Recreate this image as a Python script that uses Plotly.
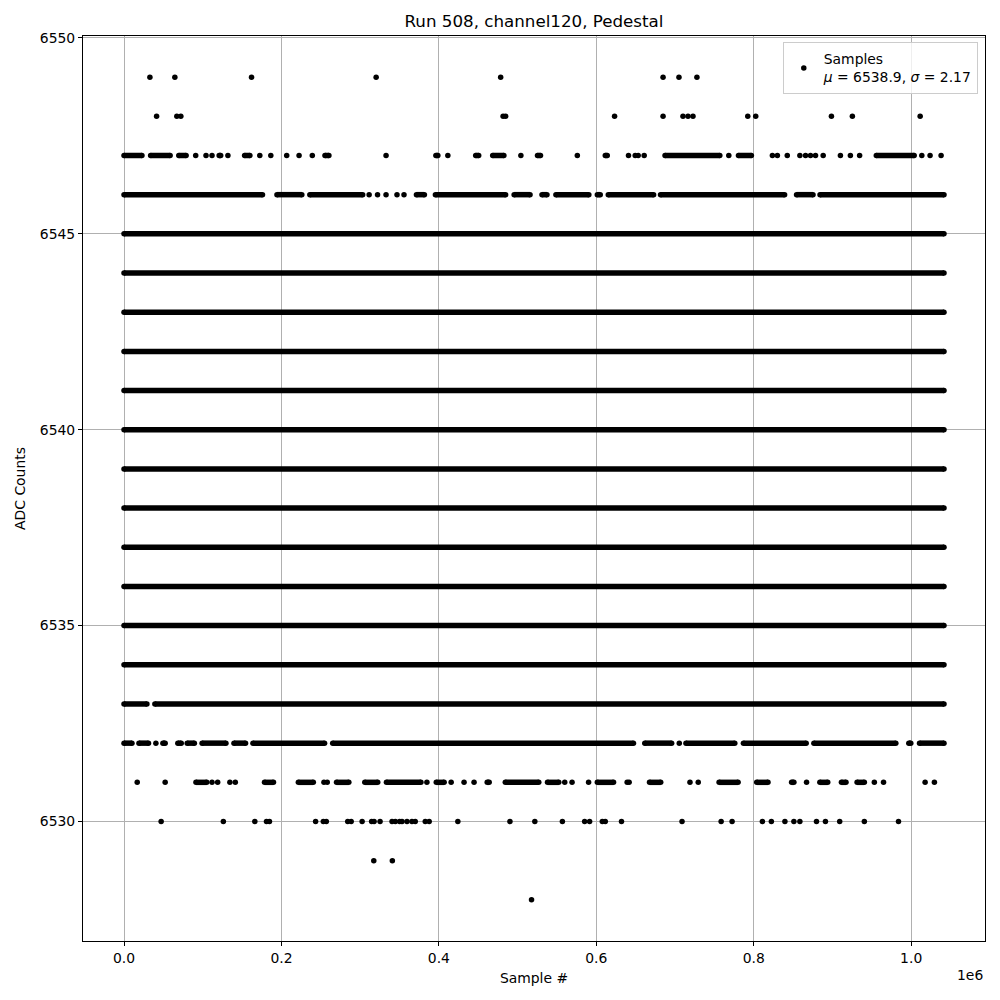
import plotly.graph_objects as go

# ---------------- data (sample index, ADC value) ----------------
x_end = 1041700  # last sample index

# levels that are filled over the whole run
dense_levels = [6534, 6535, 6536, 6537, 6538, 6539, 6540, 6541, 6542, 6543, 6544, 6545]

# partially filled levels: runs of consecutive samples (start, end)
runs_6533 = [(0, 29100), (39200, 1041700)]
runs_6546 = [(0, 175950), (194300, 225900), (236100, 303200), (371500, 381600),
             (395600, 484800), (495600, 515800), (531000, 537300), (548700, 590500),
             (601300, 605000), (615200, 672800), (681600, 839200), (854400, 875300),
             (884200, 1041700)]
runs_6547 = [(0, 22800), (33800, 58600), (69600, 78900), (120900, 122800),
             (153200, 159900), (255300, 260300), (396200, 398700), (446800, 450600),
             (468400, 482600), (525300, 529100), (611400, 613900), (687300, 756900),
             (780600, 797000), (955700, 1003800)]
runs_6532 = [(0, 10100), (19000, 31100), (49400, 52300), (68400, 72700), (80300, 89400),
             (99200, 129500), (139700, 154400), (163800, 254800), (265100, 647200),
             (661600, 695700), (713900, 775900), (786900, 866600), (876400, 980500),
             (997000, 999500), (1010600, 1041700)]
runs_6531 = [(91400, 105100), (178500, 189900), (221500, 240500), (270000, 285600),
             (305900, 322300), (333400, 377200), (396700, 406700), (461400, 463900),
             (484400, 526900), (538000, 552300), (601300, 621900), (667600, 681800),
             (756000, 780100), (803800, 818100), (848100, 851000), (884000, 894000),
             (911400, 917200), (931300, 940500)]

# isolated samples
dots_6549 = [32900, 64600, 162000, 320300, 478500, 684800, 705000, 727800]
dots_6548 = [41400, 67100, 72200, 481600, 484800, 623200, 684800, 710100, 716500,
             722800, 792400, 802500, 898700, 925300, 1011400]
dots_6547 = [91100, 104200, 111800, 132000, 172500, 186500, 206700, 222400, 239200,
             332900, 411400, 504200, 575900, 640900, 649400, 653200, 660800, 768300,
             823700, 830000, 842600, 858600, 865800, 872100, 878500, 888200, 910100,
             922800, 934500, 1013500, 1024000, 1038000]
dots_6546 = [311400, 322100, 332900, 346800, 355700]
dots_6532 = [40500, 705400]
dots_6531 = [16800, 52300, 111800, 119000, 134500, 141400, 254000, 258200, 384800,
             415600, 432000, 444700, 559900, 569200, 590200, 639200, 641700, 719000,
             729500, 867100, 953200, 964900, 1017700, 1029500]
dots_6530 = [47200, 126200, 166200, 181000, 184800, 243400, 253200, 257000, 284200,
             288600, 302500, 314600, 317700, 325300, 340500, 344700, 350200, 353200,
             359500, 365800, 370000, 382700, 387700, 424100, 490300, 521900, 556900,
             585200, 591500, 607600, 611400, 632000, 708900, 758600, 772500, 811000,
             822400, 839600, 851000, 858600, 879700, 891100, 909200, 940500, 983900]
dots_6529 = [317300, 340900]
dots_6528 = [517700]

mu = 6538.9
sigma = 2.17

x_ticks = [0, 200000, 400000, 600000, 800000, 1000000]
x_tick_text = ["0.0", "0.2", "0.4", "0.6", "0.8", "1.0"]
y_ticks = [6530, 6535, 6540, 6545, 6550]

# ---------------- build marks ----------------
run_sets = {6533: runs_6533, 6546: runs_6546, 6547: runs_6547,
            6532: runs_6532, 6531: runs_6531}
for lv in dense_levels:
    run_sets[lv] = [(0, x_end)]

rx, ry = [], []
for lv, runs in run_sets.items():
    for a, b in runs:
        rx += [a, b, None]
        ry += [lv, lv, None]

dot_sets = {6549: dots_6549, 6548: dots_6548, 6547: dots_6547, 6546: dots_6546,
            6532: dots_6532, 6531: dots_6531, 6530: dots_6530, 6529: dots_6529,
            6528: dots_6528}
dx, dy = [], []
for lv, xs in dot_sets.items():
    dx += xs
    dy += [lv] * len(xs)

FONT = "DejaVu Sans"
FS = 13.9
fig = go.Figure()
fig.add_trace(go.Scatter(x=rx, y=ry, mode="lines+markers",
                         line=dict(color="black", width=5.5),
                         marker=dict(color="black", size=5.5),
                         showlegend=False, hoverinfo="skip"))
fig.add_trace(go.Scatter(x=dx, y=dy, mode="markers",
                         marker=dict(color="black", size=5.5),
                         name=f"Samples<br><i>μ</i> = {mu}, <i>σ</i> = {sigma}"))

x_margin = 0.05 * x_end
y_lo, y_hi = 6528, 6549
y_margin = 0.05 * (y_hi - y_lo)

axis_common = dict(showline=True, linecolor="black", linewidth=1, mirror=True,
                   ticks="outside", ticklen=4, tickcolor="black",
                   showgrid=True, gridcolor="#b0b0b0", gridwidth=0.8,
                   zeroline=False, tickfont=dict(family=FONT, size=FS, color="black"))

fig.update_layout(
    width=992, height=992,
    margin=dict(l=73, r=15, t=28, b=59),
    plot_bgcolor="white", paper_bgcolor="white",
    font=dict(family=FONT, color="black"),
    title=dict(text="Run 508, channel120, Pedestal", x=0.5, xref="paper",
               y=0.987, yref="container", yanchor="middle",
               font=dict(family=FONT, size=16.7, color="black")),
    xaxis=dict(range=[-x_margin, x_end + x_margin], tickvals=x_ticks, ticktext=x_tick_text,
               title=dict(text="Sample #", font=dict(family=FONT, size=FS), standoff=8),
               **axis_common),
    yaxis=dict(range=[y_lo - y_margin, y_hi + y_margin], tickvals=y_ticks,
               title=dict(text="ADC Counts", font=dict(family=FONT, size=FS), standoff=10),
               **axis_common),
    legend=dict(x=0.992, y=0.993, xanchor="right", yanchor="top",
                bgcolor="rgba(255,255,255,0.8)", bordercolor="#cccccc", borderwidth=1,
                font=dict(family=FONT, size=FS, color="black"), valign="middle"),
    annotations=[dict(text="1e6", xref="paper", yref="paper", x=1, y=0,
                      xanchor="right", yanchor="top", yshift=-24, showarrow=False,
                      font=dict(family=FONT, size=FS, color="black"))],
)

fig.write_html("out.html")
